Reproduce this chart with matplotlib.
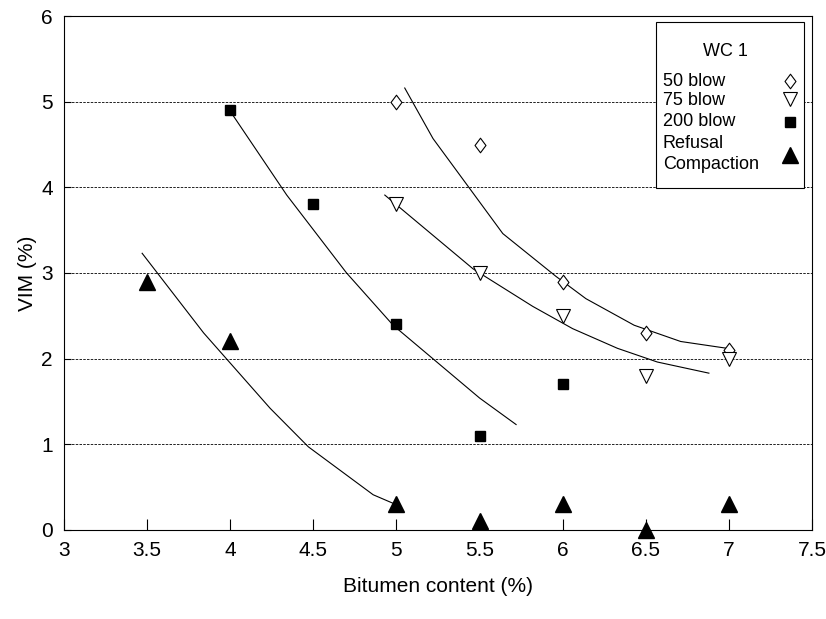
import matplotlib

matplotlib.use("Agg")
import matplotlib.pyplot as plt
from matplotlib.path import Path
from matplotlib.patches import Rectangle

plt.rcParams["font.family"] = ["Liberation Sans", "DejaVu Sans"]

# measured points
blow50_x = [5.0, 5.5, 6.0, 6.5, 7.0]
blow50_y = [5.0, 4.5, 2.9, 2.3, 2.1]
blow75_x = [5.0, 5.5, 6.0, 6.5, 7.0]
blow75_y = [3.8, 3.0, 2.5, 1.8, 2.0]
blow200_x = [4.0, 4.5, 5.0, 5.5, 6.0]
blow200_y = [4.9, 3.8, 2.4, 1.1, 1.7]
refusal_x = [3.5, 4.0, 5.0, 5.5, 6.0, 6.5, 7.0]
refusal_y = [2.9, 2.2, 0.3, 0.1, 0.3, 0.0, 0.3]

# fitted trend curves
fit50_x = [5.05, 5.22, 5.50, 5.64, 5.96, 6.14, 6.43, 6.71, 6.99]
fit50_y = [5.16, 4.57, 3.83, 3.46, 2.96, 2.70, 2.39, 2.20, 2.12]
fit75_x = [4.93, 5.46, 5.50, 5.82, 6.06, 6.33, 6.57, 6.88]
fit75_y = [3.91, 3.05, 3.00, 2.61, 2.35, 2.12, 1.96, 1.83]
fit200_x = [4.01, 4.34, 4.70, 4.98, 5.50, 5.72]
fit200_y = [4.86, 3.91, 3.00, 2.39, 1.54, 1.23]
fitref_x = [3.47, 3.84, 4.24, 4.47, 4.86, 4.98]
fitref_y = [3.23, 2.30, 1.42, 0.97, 0.41, 0.31]

x_ticks = [3, 3.5, 4, 4.5, 5, 5.5, 6, 6.5, 7, 7.5]
y_ticks = [0, 1, 2, 3, 4, 5, 6]

series_labels = ["50 blow", "75 blow", "200 blow", "Refusal\nCompaction"]

diamond = Path([(0, 1), (0.75, 0), (0, -1), (-0.75, 0), (0, 1)],
               [Path.MOVETO, Path.LINETO, Path.LINETO, Path.LINETO, Path.CLOSEPOLY])

styles = [
    dict(marker=diamond, ms=10.5, mfc="white", mec="black", mew=0.8),
    dict(marker="v", ms=10.5, mfc="white", mec="black", mew=0.8),
    dict(marker="s", ms=7, mfc="black", mec="black"),
    dict(marker="^", ms=11, mfc="black", mec="black"),
]


def main() -> None:
    fig = plt.figure(figsize=(8.26, 6.19), dpi=100)
    ax = fig.add_axes([0.0775, 0.144, 0.9055, 0.830])

    for yv in y_ticks[1:-1]:
        ax.axhline(yv, color="black", lw=0.6, ls=(0, (3, 1.5)), zorder=1)

    for fx, fy in [(fit50_x, fit50_y), (fit75_x, fit75_y),
                   (fit200_x, fit200_y), (fitref_x, fitref_y)]:
        ax.plot(fx, fy, color="black", lw=0.8, zorder=2)

    data = [(blow50_x, blow50_y), (blow75_x, blow75_y),
            (blow200_x, blow200_y), (refusal_x, refusal_y)]
    for (xs, ys), st in zip(data, styles):
        ax.plot(xs, ys, ls="none", zorder=3, clip_on=False, **st)

    ax.set_xlim(3, 7.5)
    ax.set_ylim(0, 6)
    ax.set_xticks(x_ticks)
    ax.set_xticklabels([f"{v:g}" for v in x_ticks])
    ax.set_yticks(y_ticks)
    ax.tick_params(axis="x", direction="in", length=8, width=0.8, labelsize=15, pad=8)
    ax.tick_params(axis="y", direction="in", length=5, width=0.8, labelsize=15, pad=8)
    for s in ax.spines.values():
        s.set_linewidth(0.8)

    ax.set_xlabel("Bitumen content (%)", fontsize=15, labelpad=12)
    ax.set_ylabel("VIM (%)", fontsize=15, labelpad=3)

    # legend box drawn by hand (text left, symbol right)
    tr = ax.transAxes
    ax.add_patch(Rectangle((0.791, 0.666), 0.199, 0.322, transform=tr, fc="white",
                           ec="black", lw=0.8, zorder=5, clip_on=False))
    ax.text(0.884, 0.932, "WC 1", transform=tr, ha="center", va="center",
            fontsize=13, zorder=6)
    text_y = [0.872, 0.835, 0.794, 0.732]
    mark_y = [0.874, 0.838, 0.794, 0.730]
    for lab, ty, my, st in zip(series_labels, text_y, mark_y, styles):
        ax.text(0.8005, ty, lab, transform=tr, ha="left", va="center",
                fontsize=13, linespacing=1.3, zorder=6)
        ax.plot([0.9706], [my], transform=tr, ls="none", zorder=6, clip_on=False, **st)

    fig.savefig("out.png", dpi=100)
    plt.close(fig)


if __name__ == "__main__":
    main()
